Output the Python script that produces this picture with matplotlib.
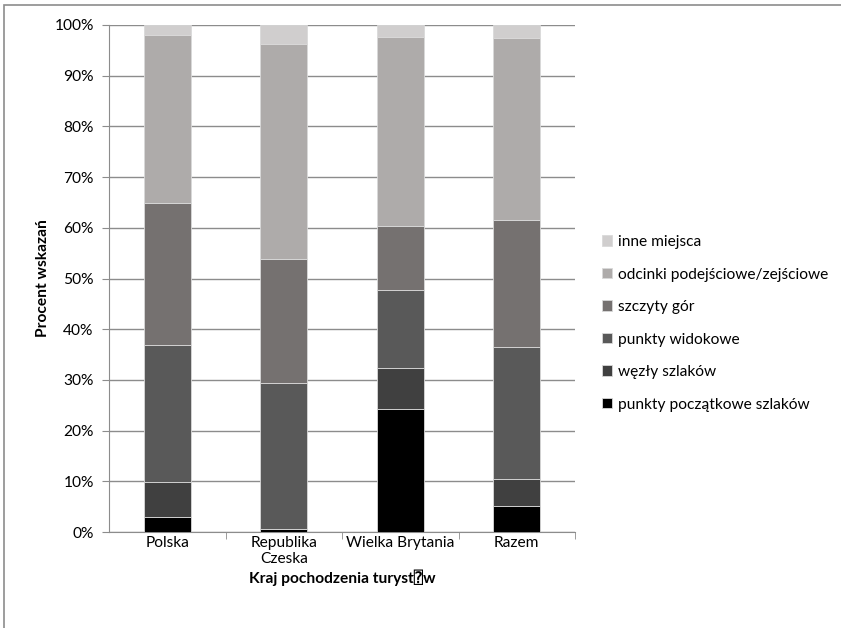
import matplotlib.pyplot as plt
import numpy as np
from matplotlib.patches import Rectangle
from matplotlib.ticker import PercentFormatter, FixedLocator

plt.rcParams['font.family'] = ['Lato', 'DejaVu Sans', 'DejaVu Sans Mono']

countries = ['Polska', 'Republika\nCzeska', 'Wielka Brytania', 'Razem']

# shares of answers per country (%), bottom segment first
poczatkowe = [2.9, 0.5, 24.3, 5.1]
wezly = [7.0, 0.0, 8.1, 5.4]
widokowe = [27.0, 28.8, 15.3, 25.9]
szczyty = [28.0, 24.6, 12.7, 25.2]
odcinki = [33.2, 42.4, 37.3, 35.9]
inne = [1.9, 3.7, 2.3, 2.5]

series = [
    ('punkty początkowe szlaków', poczatkowe, '#000000'),
    ('węzły szlaków', wezly, '#404040'),
    ('punkty widokowe', widokowe, '#595959'),
    ('szczyty gór', szczyty, '#757170'),
    ('odcinki podejściowe/zejściowe', odcinki, '#aeabaa'),
    ('inne miejsca', inne, '#d0cece'),
]

fs = 11.2

fig = plt.figure(figsize=(8.41, 6.28), dpi=100)
ax = fig.add_axes([109/841, 96/628, 466/841, 507/628])

# outer chart frame (partly cut off)
fig.patches.append(Rectangle((4/841, -0.1), 1.2, 1 - 5/628 + 0.1, transform=fig.transFigure,
                             fill=False, edgecolor='#8c8c8c', linewidth=1.2))

x = np.arange(len(countries))
bottom = np.zeros(len(countries))
handles = []
for name, vals, col in series:
    b = ax.bar(x, vals, 0.4, bottom=bottom, color=col, edgecolor='#d9d9d9',
               linewidth=0.6, label=name, zorder=3)
    bottom += np.array(vals)
    handles.append(b)

ax.set_xlim(-0.5, 3.5)
ax.set_ylim(0, 100)
ax.yaxis.set_major_locator(FixedLocator(np.arange(0, 101, 10)))
ax.yaxis.set_major_formatter(PercentFormatter(decimals=0))
ax.grid(axis='y', color='#8c8c8c', linewidth=1.0, zorder=0)

ax.set_xticks(x)
ax.set_xticklabels(countries, fontsize=fs, linespacing=1.15)
ax.set_xticks([0.5, 1.5, 2.5, 3.5], minor=True)
ax.tick_params(axis='x', which='major', length=0, pad=3)
ax.tick_params(axis='x', which='minor', length=5, color='#8c8c8c', direction='out')
ax.tick_params(axis='y', length=5, color='#8c8c8c', labelsize=fs, pad=6)

for s in ['top', 'right']:
    ax.spines[s].set_visible(False)
ax.spines['left'].set_color('#8c8c8c')
ax.spines['bottom'].set_color('#8c8c8c')

ax.set_ylabel('Procent wskazań', fontsize=fs, fontweight='bold', labelpad=3)
ax.set_xlabel('Kraj pochodzenia turyst\u2370w', fontsize=fs, fontweight='bold', labelpad=3)

leg = fig.legend(handles[::-1], [h.get_label() for h in handles[::-1]],
                 loc='upper left', bbox_to_anchor=(588/841, 1 - 221/628),
                 frameon=False, fontsize=fs, handlelength=0.65, handleheight=0.65,
                 handletextpad=0.35, labelspacing=1.19)

plt.savefig('out.png', dpi=100)
